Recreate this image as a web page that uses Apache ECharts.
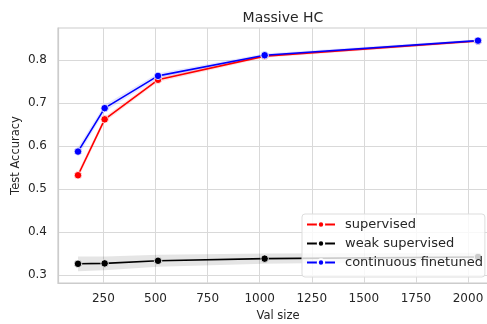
<!DOCTYPE html>
<html>
<head>
<meta charset="utf-8">
<script src="https://cdn.jsdelivr.net/npm/echarts@6/dist/echarts.min.js"></script>
<style>
  html, body { margin: 0; padding: 0; background: #fff; }
  #chart { width: 487px; height: 324px; }
</style>
</head>
<body>
<div id="chart"></div>
<script>
// data
var valSizes = [128, 256, 512, 1024, 2048];
var supervised = [0.532, 0.662, 0.754, 0.809, 0.844];
var weakSupervised = [0.326, 0.327, 0.333, 0.338, 0.342];
var continuousFinetuned = [0.587, 0.688, 0.763, 0.811, 0.845];
// confidence band half widths
var supervisedErr = [0.008, 0.006, 0.005, 0.004, 0.003];
var weakErr = [0.017, 0.016, 0.014, 0.012, 0.010];
var continuousErr = [0.010, 0.008, 0.006, 0.004, 0.003];
var xTicks = [250, 500, 750, 1000, 1250, 1500, 1750, 2000];
var yTicks = [0.3, 0.4, 0.5, 0.6, 0.7, 0.8];

var font = 'DejaVu Sans';

function pairs(vals) {
  return valSizes.map(function (x, i) { return [x, vals[i]]; });
}
// band drawn as one polygon through the axis scale
function bandSeries(vals, err, color, opacity) {
  return {
    type: 'custom', silent: true, z: 1,
    data: valSizes.map(function (x, i) { return [x, vals[i] - err[i], vals[i] + err[i]]; }),
    encode: { x: 0, y: [1, 2] },
    renderItem: function (params, api) {
      if (params.dataIndex !== 0) return;
      var top = [], bottom = [];
      for (var i = 0; i < valSizes.length; i++) {
        top.push(api.coord([valSizes[i], vals[i] + err[i]]));
        bottom.unshift(api.coord([valSizes[i], vals[i] - err[i]]));
      }
      return {
        type: 'polygon',
        shape: { points: top.concat(bottom) },
        style: { fill: color, opacity: opacity }
      };
    }
  };
}
function lineSeries(name, vals, color) {
  return {
    name: name, type: 'line', data: pairs(vals), z: 3,
    symbol: 'circle', symbolSize: 7.5,
    itemStyle: { color: color, borderColor: '#fff', borderWidth: 0.8 },
    lineStyle: { color: color, width: 1.6 }
  };
}

var chart = echarts.init(document.getElementById('chart'), null, { renderer: 'canvas' });
var option = {
  animation: false,
  backgroundColor: '#fff',
  title: {
    text: 'Massive HC', left: 278, top: 6, textAlign: 'center',
    textStyle: { fontFamily: font, fontSize: 14, fontWeight: 'normal', color: '#262626' }
  },
  // the axes run a little past the right edge of the picture
  grid: { left: 58, right: -11, top: 28, bottom: 41, outerBoundsMode: 'none',
    show: true, borderColor: '#cccccc', borderWidth: 1.2 },
  legend: {
    data: ['supervised', 'weak supervised', 'continuous finetuned'],
    orient: 'vertical', left: 302, top: 214,
    itemWidth: 28, itemHeight: 8, itemGap: 6,
    padding: [4, 2, 8, 4],
    backgroundColor: 'rgba(255,255,255,0.8)',
    borderColor: '#dddddd', borderWidth: 1, borderRadius: 3,
    textStyle: { fontFamily: font, fontSize: 13, lineHeight: 13, color: '#262626', padding: [0, 0, 0, 5] }
  },
  xAxis: {
    type: 'value', min: 32, max: 2144,
    name: 'Val size', nameLocation: 'middle', nameGap: 27, nameMoveOverlap: false,
    nameTextStyle: { fontFamily: font, fontSize: 11.5, color: '#262626' },
    axisLine: { show: true, lineStyle: { color: '#cccccc', width: 1.2 } },
    axisTick: { show: false, customValues: xTicks },
    axisLabel: { customValues: xTicks, fontFamily: font, fontSize: 12, color: '#262626', margin: 10,
      formatter: function (v) { return String(v); } },
    splitLine: { show: true, lineStyle: { color: '#d9d9d9', width: 1 } }
  },
  yAxis: {
    type: 'value', min: 0.2814, max: 0.8744,
    name: 'Test Accuracy', nameLocation: 'middle', nameGap: 36, nameMoveOverlap: false,
    nameTextStyle: { fontFamily: font, fontSize: 11.5, color: '#262626' },
    axisLine: { show: true, lineStyle: { color: '#cccccc', width: 1.2 } },
    axisTick: { show: false, customValues: yTicks },
    axisLabel: { customValues: yTicks, fontFamily: font, fontSize: 12, color: '#262626', margin: 11,
      formatter: function (v) { return v.toFixed(1); } },
    splitLine: { show: true, lineStyle: { color: '#d9d9d9', width: 1 } }
  },
  series: [
    bandSeries(weakSupervised, weakErr, '#000000', 0.1),
    bandSeries(supervised, supervisedErr, '#ff0000', 0.12),
    bandSeries(continuousFinetuned, continuousErr, '#0000ff', 0.1),
    lineSeries('supervised', supervised, '#ff0000'),
    lineSeries('weak supervised', weakSupervised, '#000000'),
    lineSeries('continuous finetuned', continuousFinetuned, '#0000ff')
  ]
};
chart.setOption(option);
</script>
</body>
</html>
